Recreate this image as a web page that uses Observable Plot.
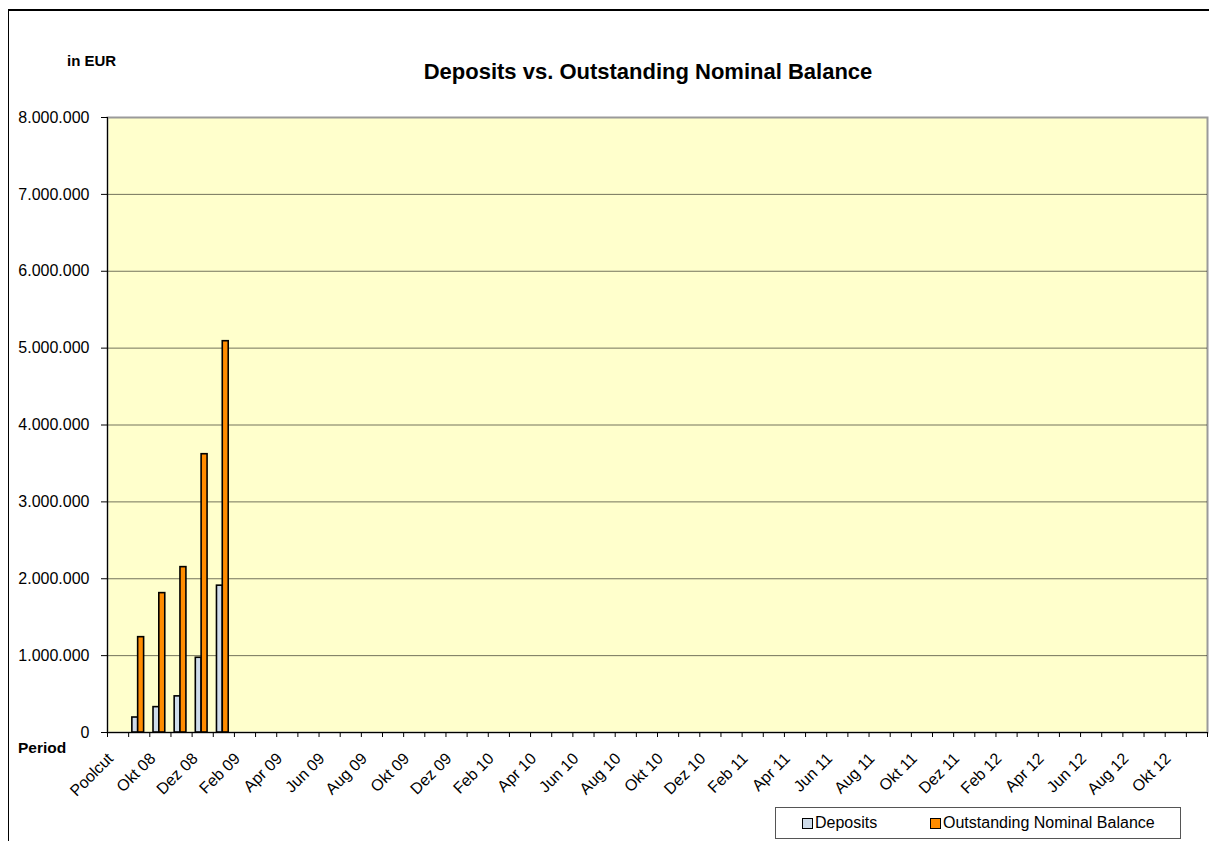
<!DOCTYPE html>
<html>
<head>
<meta charset="utf-8">
<script src="https://cdn.jsdelivr.net/npm/d3@7"></script>
<script src="https://cdn.jsdelivr.net/npm/@observablehq/plot@0.6"></script>
<style>
  html, body { margin: 0; padding: 0; background: #fff; }
  body { width: 1209px; height: 841px; position: relative; overflow: hidden; font-family: "Liberation Sans", Arial, sans-serif; }
  #frame { position: absolute; left: 8px; top: 9px; width: 1300px; height: 900px; border-left: 1px solid #000; border-top: 2px solid #000; }
  #chart { position: absolute; left: 0; top: 0; }
  #legend { position: absolute; left: 775px; top: 807px; width: 404px; height: 30px; border: 1px solid #555; background: #fff; font-size: 16px; }
  .item { position: absolute; top: 6px; display: flex; align-items: center; }
  .sw { width: 9px; height: 9px; border: 1.5px solid #000; margin-right: 2px; }
</style>
</head>
<body>
<div id="frame"></div>
<div id="chart"></div>
<div id="legend">
  <div class="item" style="left:26px"><div class="sw" style="background:#cfdcea"></div><span>Deposits</span></div>
  <div class="item" style="left:154px"><div class="sw" style="background:#ff8c00"></div><span>Outstanding Nominal Balance</span></div>
</div>
<script>
const categories = ["Poolcut",
  "Sep 08","Okt 08","Nov 08","Dez 08",
  "Jan 09","Feb 09","Mär 09","Apr 09","Mai 09","Jun 09","Jul 09","Aug 09","Sep 09","Okt 09","Nov 09","Dez 09",
  "Jan 10","Feb 10","Mär 10","Apr 10","Mai 10","Jun 10","Jul 10","Aug 10","Sep 10","Okt 10","Nov 10","Dez 10",
  "Jan 11","Feb 11","Mär 11","Apr 11","Mai 11","Jun 11","Jul 11","Aug 11","Sep 11","Okt 11","Nov 11","Dez 11",
  "Jan 12","Feb 12","Mär 12","Apr 12","Mai 12","Jun 12","Jul 12","Aug 12","Sep 12","Okt 12","Nov 12"];
const deposits    = [null, 195000, 330000, 470000, 972000, 1910000];
const outstanding = [null, 1240000, 1813000, 2151000, 3620000, 5090000];
const yTicks = [0, 1000000, 2000000, 3000000, 4000000, 5000000, 6000000, 7000000, 8000000];
const gridTicks = [1000000, 2000000, 3000000, 4000000, 5000000, 6000000, 7000000];

const depData = deposits.map((v, i) => ({i, value: v})).filter(d => d.value != null);
const outData = outstanding.map((v, i) => ({i, value: v})).filter(d => d.value != null);
const labelData = categories.map((c, i) => ({i, label: c})).filter(d => d.i % 2 === 0);

const de = d3.formatLocale({decimal: ",", thousands: ".", grouping: [3], currency: ["", " €"]});
const fmt = de.format(",.0f");

const plot = Plot.plot({
  width: 1209,
  height: 841,
  marginLeft: 107,
  marginRight: 2,
  marginTop: 117,
  marginBottom: 109,
  style: {fontFamily: "'Liberation Sans', Arial, sans-serif", fontSize: "16px", color: "#000", background: "transparent", overflow: "visible"},
  x: {type: "linear", domain: [0, categories.length], axis: null},
  y: {domain: [0, 8000000], axis: null},
  marks: [
    Plot.frame({fill: "#ffffcc", stroke: "#9a9a9a", strokeWidth: 2}),
    Plot.gridY(gridTicks, {stroke: "#000", strokeOpacity: 0.55, strokeWidth: 1}),
    Plot.rectY(depData, {x1: d => d.i, x2: d => d.i + 1, y: "value", fill: "#cfdcea", stroke: "#000", strokeWidth: 1.6, insetLeft: 3.7, insetRight: 11.6}),
    Plot.rectY(outData, {x1: d => d.i, x2: d => d.i + 1, y: "value", fill: "#ff8c00", stroke: "#000", strokeWidth: 1.6, insetLeft: 9.5, insetRight: 5.7}),
    Plot.ruleX([0], {stroke: "#000", strokeWidth: 1}),
    Plot.ruleY([0], {stroke: "#000", strokeWidth: 1.2}),
    Plot.axisY({ticks: yTicks, tickFormat: fmt, tickSize: 6, tickPadding: 12, label: null, fontSize: 16}),
    Plot.axisX({ticks: d3.range(categories.length + 1), tickFormat: () => "", tickSize: 5, label: null}),
    Plot.text(labelData, {x: d => d.i + 0.5, frameAnchor: "bottom", text: "label", rotate: -45, textAnchor: "end", lineAnchor: "top", dx: -12, dy: 19, fontSize: 16})
  ]
});
document.getElementById("chart").appendChild(plot);

const svg = d3.select(plot);
svg.append("text").attr("x", 648).attr("y", 79).attr("text-anchor", "middle")
  .attr("font-weight", "bold").attr("font-size", 22).attr("fill", "#000")
  .text("Deposits vs. Outstanding Nominal Balance");
svg.append("text").attr("x", 67).attr("y", 66).attr("text-anchor", "start")
  .attr("font-weight", "bold").attr("font-size", 15).attr("fill", "#000").text("in EUR");
svg.append("text").attr("x", 18).attr("y", 753).attr("text-anchor", "start")
  .attr("font-weight", "bold").attr("font-size", 15.5).attr("fill", "#000").text("Period");
</script>
</body>
</html>
